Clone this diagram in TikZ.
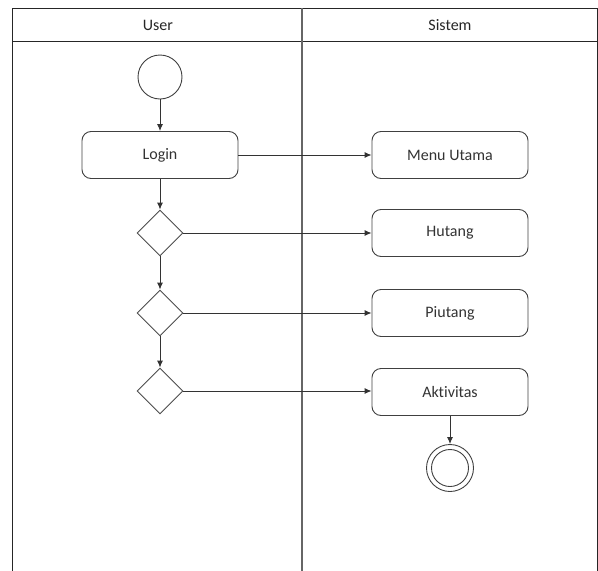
\documentclass[tikz,border=0pt]{standalone}
\usepackage{fontspec}
\setmainfont[Ligatures=NoCommon]{Carlito}
\usetikzlibrary{shapes.geometric,arrows.meta}
\begin{document}
\begin{tikzpicture}[x=1pt,y=-1pt,
  lane/.style={draw=black!85,line width=1pt},
  act/.style={draw=black!75,line width=0.9pt,rounded corners=9pt,minimum width=156pt,minimum height=47pt,inner sep=0pt,text=black!80,font=\fontsize{16}{18}\selectfont},
  choice/.style={draw=black!70,line width=0.9pt,diamond,minimum width=46pt,minimum height=46pt,inner sep=0pt},
  flow/.style={draw=black!80,line width=0.9pt,-{Latex[length=7pt,width=6pt]}},
  lanehead/.style={text=black!85,font=\fontsize{16}{18}\selectfont}]
\useasboundingbox (0,0) rectangle (598,571);
% swimlane frame
\draw[lane] (12,571) -- (12,8) -- (597,8) -- (597,571);
\draw[lane] (12,41) -- (597,41);
\draw[draw=black!60,line width=1.2pt] (302,8) -- (302,571);
\node[lanehead] (hU) at (158,25) {User};
\node[lanehead] (hS) at (450,25) {Sistem};
% user lane
\node[draw=black!75,line width=0.9pt,circle,minimum size=44pt,inner sep=0pt] (start) at (160,77) {};
\node[act] (login) at (160,155) {Login};
\node[choice] (d1) at (160,233) {};
\node[choice] (d2) at (160,313) {};
\node[choice] (d3) at (160,391) {};
% system lane
\node[act] (menu) at (450,155) {Menu Utama};
\node[act] (hut) at (450,233) {Hutang};
\node[act] (piu) at (450,313) {Piutang};
\node[act] (akt) at (450,392) {Aktivitas};
\node[draw=black!75,line width=0.9pt,circle,minimum size=47pt,inner sep=0pt] (end) at (450,468) {};
\node[draw=black!75,line width=0.9pt,circle,minimum size=37pt,inner sep=0pt] (endin) at (450,468) {};
% flows
\draw[flow] (start) -- (login);
\draw[flow] (login) -- (d1);
\draw[flow] (d1) -- (d2);
\draw[flow] (d2) -- (d3);
\draw[flow] (login) -- (menu);
\draw[flow] (d1) -- (hut);
\draw[flow] (d2) -- (piu);
\draw[flow] (d3.east) -- (d3.east -| akt.west);
\draw[flow] (akt) -- (end);
\end{tikzpicture}
\end{document}
